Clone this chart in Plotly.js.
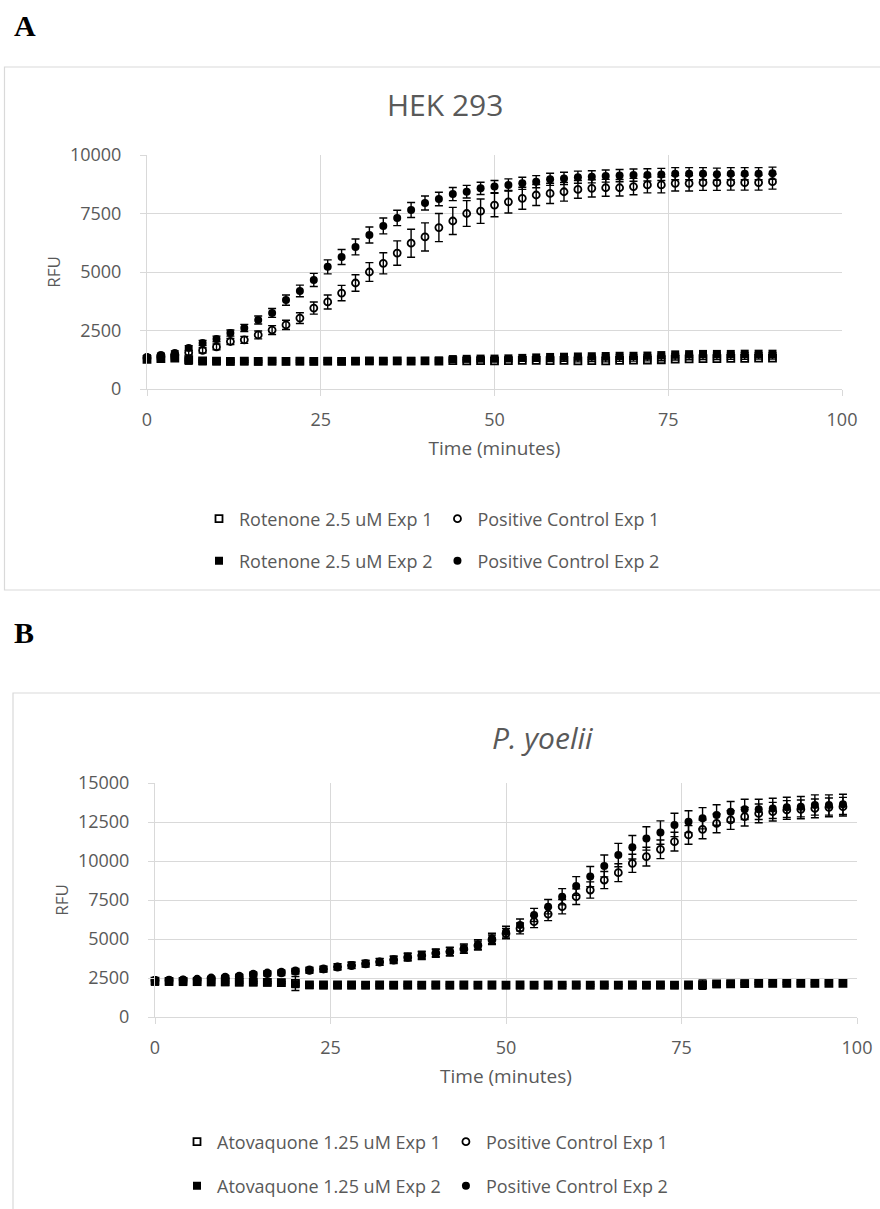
<!DOCTYPE html>
<html>
<head>
<meta charset="utf-8">
<script src="https://cdn.plot.ly/plotly-3.0.1.min.js"></script>
<style>html,body{margin:0;padding:0;background:#fff;}#chart{width:880px;height:1209px;}</style>
</head>
<body>
<div id="chart"></div>
<script>
// ---------- Panel A: HEK 293 ----------
const timeA = [0,2,4,6,8,10,12,14,16,18,20,22,24,26,28,30,32,34,36,38,40,42,44,46,48,50,52,54,56,58,60,62,64,66,68,70,72,74,76,78,80,82,84,86,88,90];
const rotExp1A = [1270,1300,1320,1250,1200,1190,1180,1190,1180,1190,1180,1190,1180,1190,1180,1190,1200,1190,1200,1190,1200,1190,1210,1200,1210,1200,1210,1220,1220,1210,1220,1200,1210,1200,1220,1230,1240,1250,1280,1290,1300,1300,1310,1310,1320,1320];
const rotExp1AErr = [40,40,40,40,40,40,40,40,40,40,40,40,40,40,40,40,40,40,40,40,40,40,40,40,40,40,40,40,40,40,40,40,40,40,40,40,40,40,40,40,40,40,40,40,40,40];
const pcExp1A = [1330,1380,1450,1560,1650,1800,2030,2100,2310,2520,2740,3030,3460,3720,4100,4530,5000,5370,5810,6230,6500,6900,7180,7500,7600,7860,8000,8150,8290,8360,8430,8530,8575,8600,8600,8650,8720,8720,8790,8790,8820,8820,8820,8820,8820,8860];
const pcExp1AErr = [80,80,90,100,110,120,130,150,170,190,200,230,260,300,330,350,400,450,520,600,600,600,580,550,520,500,480,470,450,430,400,380,370,360,350,350,340,340,330,330,330,330,320,320,320,320];
const rotExp2A = [1300,1320,1350,1200,1180,1180,1170,1180,1170,1180,1180,1180,1180,1190,1180,1190,1190,1200,1190,1200,1200,1220,1280,1290,1300,1300,1310,1330,1350,1370,1380,1390,1400,1410,1420,1420,1430,1450,1480,1490,1500,1500,1500,1510,1510,1510];
const rotExp2AErr = [40,40,40,40,40,40,40,40,40,40,40,40,40,40,40,40,40,40,40,40,40,40,40,40,40,40,40,40,40,40,40,40,40,40,40,40,40,40,40,40,40,40,40,40,40,40];
const pcExp2A = [1370,1450,1540,1750,1970,2140,2390,2610,2950,3250,3800,4190,4660,5220,5640,6070,6580,6970,7310,7650,7950,8120,8330,8430,8575,8650,8720,8790,8860,8960,9000,9050,9070,9100,9120,9140,9150,9170,9200,9200,9200,9180,9200,9200,9200,9220];
const pcExp2AErr = [80,80,90,100,110,120,130,150,170,190,220,250,280,300,320,340,340,340,330,320,300,290,280,270,260,260,260,260,260,260,260,260,260,260,260,260,260,260,260,260,260,260,260,260,260,260];

// ---------- Panel B: P. yoelii ----------
const timeB = [0,2,4,6,8,10,12,14,16,18,20,22,24,26,28,30,32,34,36,38,40,42,44,46,48,50,52,54,56,58,60,62,64,66,68,70,72,74,76,78,80,82,84,86,88,90,92,94,96,98];
const atoExp1B = [2300,2290,2280,2270,2260,2250,2240,2230,2220,2200,2150,2060,2050,2050,2050,2040,2050,2040,2050,2040,2050,2040,2050,2040,2050,2040,2050,2040,2050,2040,2050,2040,2050,2040,2050,2040,2050,2040,2050,2080,2120,2130,2140,2150,2150,2150,2150,2150,2150,2150];
const atoExp1BErr = [60,60,60,60,60,60,60,60,60,60,450,60,60,60,60,60,60,60,60,60,60,60,60,60,60,60,60,60,60,60,60,60,60,60,60,60,60,60,60,300,60,60,60,60,60,60,60,60,60,60];
const pcExp1B = [2350,2360,2380,2420,2500,2560,2620,2750,2820,2870,2950,3020,3080,3200,3300,3400,3520,3650,3820,3930,4080,4180,4350,4580,4950,5350,5680,6110,6600,7070,7710,8140,8780,9250,9850,10280,10750,11240,11670,12030,12410,12630,12840,13050,13160,13270,13310,13370,13440,13480];
const pcExp1BErr = [100,100,100,100,100,110,120,130,140,150,160,170,180,190,200,200,210,220,230,240,250,260,270,290,310,330,350,380,420,460,500,520,550,570,580,600,600,600,600,600,600,600,600,600,600,600,600,600,600,600];
const atoExp2B = [2250,2250,2240,2240,2230,2230,2220,2220,2210,2200,2100,2040,2030,2030,2030,2030,2030,2030,2030,2030,2030,2030,2030,2030,2030,2030,2030,2030,2030,2030,2030,2030,2030,2030,2030,2030,2030,2030,2030,2050,2100,2120,2150,2160,2170,2170,2170,2170,2180,2180];
const atoExp2BErr = [60,60,60,60,60,60,60,60,60,60,60,60,60,60,60,60,60,60,60,60,60,60,60,60,60,60,60,60,60,60,60,60,60,60,60,60,60,60,60,60,60,60,60,60,60,60,60,60,60,60];
const pcExp2B = [2370,2370,2380,2410,2480,2540,2590,2690,2760,2800,2910,2970,3060,3230,3330,3440,3550,3700,3870,3970,4120,4200,4400,4650,5040,5470,5900,6540,7070,7710,8400,9000,9680,10380,10880,11450,11820,12310,12520,12740,12950,13160,13310,13310,13370,13440,13480,13590,13590,13630];
const pcExp2BErr = [100,100,100,100,100,110,120,130,140,150,160,170,180,190,200,200,210,220,230,240,250,270,290,310,330,350,380,420,460,520,600,650,700,750,750,750,750,750,700,680,660,650,650,650,650,650,650,650,650,650];

const xTicks = [0,25,50,75,100];
const yTicksA = [0,2500,5000,7500,10000];
const yTicksB = [0,2500,5000,7500,10000,12500,15000];

const legendA = ['Rotenone 2.5 uM Exp 1','Positive Control Exp 1','Rotenone 2.5 uM Exp 2','Positive Control Exp 2'];
const legendB = ['Atovaquone 1.25 uM Exp 1','Positive Control Exp 1','Atovaquone 1.25 uM Exp 2','Positive Control Exp 2'];

// ---------- helpers (positions/styles) ----------
const W = 880, H = 1209;
const px = v => v / W;
const py = v => 1 - v / H;
const GREY = '#595959';
const GRID = '#d9d9d9';
const FONT = 'Open Sans, Noto Sans, sans-serif';

function errObj(arr) {
  return {type: 'data', array: arr, visible: true, color: '#000', thickness: 1.4, width: 4};
}
function tr(x, y, err, name, sym, xa, ya, leg) {
  const open = sym.indexOf('open') >= 0;
  return {
    type: 'scatter', mode: 'markers', x: x, y: y, name: name,
    xaxis: xa, yaxis: ya, legend: leg, cliponaxis: false,
    marker: {symbol: sym, size: open ? 7 : 8, color: '#000', line: {color: '#000', width: open ? 1.8 : 0}},
    error_y: errObj(err)
  };
}

const data = [
  tr(timeA, rotExp1A, rotExp1AErr, legendA[0], 'square-open', 'x', 'y', 'legend'),
  tr(timeA, pcExp1A, pcExp1AErr, legendA[1], 'circle-open', 'x', 'y', 'legend'),
  tr(timeA, rotExp2A, rotExp2AErr, legendA[2], 'square', 'x', 'y', 'legend2'),
  tr(timeA, pcExp2A, pcExp2AErr, legendA[3], 'circle', 'x', 'y', 'legend2'),
  tr(timeB, atoExp1B, atoExp1BErr, legendB[0], 'square-open', 'x2', 'y2', 'legend3'),
  tr(timeB, pcExp1B, pcExp1BErr, legendB[1], 'circle-open', 'x2', 'y2', 'legend3'),
  tr(timeB, atoExp2B, atoExp2BErr, legendB[2], 'square', 'x2', 'y2', 'legend4'),
  tr(timeB, pcExp2B, pcExp2BErr, legendB[3], 'circle', 'x2', 'y2', 'legend4')
];

function xAxis(domain, anchor) {
  return {
    domain: domain, anchor: anchor, range: [0, 100], tickvals: xTicks, tickformat: 'd',
    showgrid: true, gridcolor: GRID, gridwidth: 1, zeroline: false,
    showline: true, linecolor: GRID, mirror: false,
    ticks: 'outside', ticklen: 6, tickcolor: GRID, ticklabelstandoff: 8,
    tickfont: {family: FONT, size: 18, color: GREY},
    title: {text: 'Time (minutes)', font: {family: FONT, size: 19, color: GREY}, standoff: 12},
    fixedrange: true
  };
}
function yAxis(domain, anchor, range, ticks) {
  return {
    domain: domain, anchor: anchor, range: range, tickvals: ticks, tickformat: 'd',
    showgrid: true, gridcolor: GRID, gridwidth: 1, zeroline: false,
    showline: true, linecolor: GRID,
    ticks: 'outside', ticklen: 6, tickcolor: GRID, ticklabelstandoff: 15,
    tickfont: {family: FONT, size: 18, color: GREY},
    title: {text: 'RFU', font: {family: FONT, size: 17, color: GREY}, standoff: 4},
    fixedrange: true
  };
}
function legendObj(x, y) {
  return {
    orientation: 'h', x: x, y: y, xanchor: 'left', yanchor: 'middle',
    font: {family: FONT, size: 18, color: GREY}, bgcolor: 'rgba(0,0,0,0)',
    itemwidth: 30, traceorder: 'normal'
  };
}

const layout = {
  width: W, height: H,
  margin: {l: 0, r: 0, t: 0, b: 0},
  paper_bgcolor: '#fff', plot_bgcolor: '#fff',
  showlegend: true,
  xaxis: xAxis([px(147), px(842)], 'y'),
  yaxis: yAxis([py(389), py(155)], 'x', [0, 10000], yTicksA),
  xaxis2: xAxis([px(155), px(857)], 'y2'),
  yaxis2: yAxis([py(1017), py(783)], 'x2', [0, 15000], yTicksB),
  legend: legendObj(px(199), py(519)),
  legend2: legendObj(px(199), py(561)),
  legend3: legendObj(px(177), py(1142)),
  legend4: legendObj(px(177), py(1186)),
  shapes: [
    {type: 'rect', xref: 'paper', yref: 'paper', x0: px(4.5), x1: px(895), y0: py(590), y1: py(67),
     line: {color: GRID, width: 1.2}, fillcolor: 'rgba(0,0,0,0)', layer: 'below'},
    {type: 'rect', xref: 'paper', yref: 'paper', x0: px(13), x1: px(895), y0: py(1225), y1: py(693),
     line: {color: GRID, width: 1.2}, fillcolor: 'rgba(0,0,0,0)', layer: 'below'}
  ],
  annotations: [
    {text: '<b>A</b>', xref: 'paper', yref: 'paper', x: px(25), y: py(26), xanchor: 'center', yanchor: 'middle',
     showarrow: false, font: {family: 'Liberation Serif, DejaVu Serif, serif', size: 30, color: '#000'}},
    {text: '<b>B</b>', xref: 'paper', yref: 'paper', x: px(24), y: py(632), xanchor: 'center', yanchor: 'middle',
     showarrow: false, font: {family: 'Liberation Serif, DejaVu Serif, serif', size: 30, color: '#000'}},
    {text: 'HEK 293', xref: 'paper', yref: 'paper', x: px(445), y: py(104), xanchor: 'center', yanchor: 'middle',
     showarrow: false, font: {family: FONT, size: 30, color: GREY}},
    {text: '<i>P. yoelii</i>', xref: 'paper', yref: 'paper', x: px(542), y: py(737), xanchor: 'center', yanchor: 'middle',
     showarrow: false, font: {family: FONT, size: 30, color: GREY}}
  ]
};

Plotly.newPlot('chart', data, layout, {displayModeBar: false, staticPlot: true});
</script>
</body>
</html>
